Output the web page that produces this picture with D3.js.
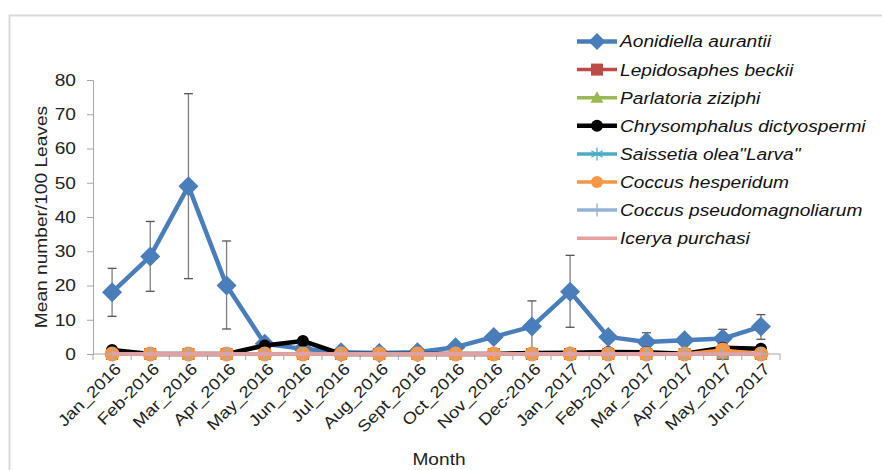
<!DOCTYPE html>
<html>
<head>
<meta charset="utf-8">
<script src="https://cdn.jsdelivr.net/npm/d3@7"></script>
<style>
  html, body { margin: 0; padding: 0; background: #fff; }
  svg { display: block; font-family: "Liberation Sans", Arial, sans-serif; }
</style>
</head>
<body>
<svg id="chart" width="882" height="470"></svg>
<script>
// Sampling months
const months = ["Jan_2016","Feb-2016","Mar_2016","Apr_2016","May_2016","Jun_2016","Jul_2016","Aug_2016",
  "Sept_2016","Oct_2016","Nov_2016","Dec-2016","Jan_2017","Feb-2017","Mar_2017","Apr_2017","May_2017","Jun_2017"];

// Mean number per 100 leaves for each species
const aonidiella     = [18, 28.5, 49, 20, 3, 1.5, 0.5, 0.3, 0.5, 2, 5, 8, 18.2, 5, 3.5, 4, 4.5, 8];
const aonidiellaLow  = [11, 18.3, 22, 7.3, null, null, null, null, null, null, null, 0.5, 7.8, null, 3, null, 3.5, 4.3];
const aonidiellaHigh = [25, 38.7, 76, 33, null, null, null, null, null, null, null, 15.5, 28.8, null, 6.2, null, 7.2, 11.5];
const lepidosaphes   = [0, 0, 0, 0, 0, 0, 0, 0, 0, 0, 0, 0, 0, 0, 0, 0, 0, 0];
const parlatoria     = [0, 0, 0, 0, 0, 0, 0, 0, 0, 0, 0, 0, 0, 0, 0, 0, 0.1, 0];
const chrysomphalus  = [1.2, 0, 0, 0, 2.5, 3.8, 0, 0, 0, 0, 0, 0.3, 0.4, 0.6, 0.5, 0.1, 1.8, 1.5];
const saissetia      = [0, 0, 0, 0, 0, 0, 0, 0, 0, 0, 0, 0, 0, 0, 0, 0, 0, 0];
const coccusHesp     = [0, 0, 0, 0, 0, 0, 0, 0, 0, 0, 0, 0, 0, 0, 0, 0, 1.2, 0];
const coccusPseudo   = [0, 0, 0, 0, 0, 0, 0, 0, 0, 0, 0, 0, 0, 0, 0, 0, 0, 0];
const icerya         = [0, 0, 0, 0, 0, 0, 0, 0, 0, 0, 0, 0, 0, 0, 0, 0, 0, 0];

const yTicks = [0, 10, 20, 30, 40, 50, 60, 70, 80];

const series = [
  { name: "Aonidiella aurantii", values: aonidiella, color: "#4a7ebb", width: 4.5, marker: "diamond", low: aonidiellaLow, high: aonidiellaHigh },
  { name: "Lepidosaphes beckii", values: lepidosaphes, color: "#be4b48", width: 3.5, marker: "square" },
  { name: "Parlatoria ziziphi", values: parlatoria, color: "#98b954", width: 3.5, marker: "triangle" },
  { name: "Chrysomphalus dictyospermi", values: chrysomphalus, color: "#000000", width: 4.5, marker: "circle" },
  { name: "Saissetia olea\"Larva\"", values: saissetia, color: "#4bacc6", width: 3.5, marker: "star" },
  { name: "Coccus hesperidum", values: coccusHesp, color: "#f79646", width: 3.5, marker: "bigcircle" },
  { name: "Coccus pseudomagnoliarum", values: coccusPseudo, color: "#95b3d7", width: 3.5, marker: "plus" },
  { name: "Icerya purchasi", values: icerya, color: "#e6a0a0", width: 3.5, marker: "none" }
];

// Text in this chart is set a little wide
const STRETCH = 1.16;

const svg = d3.select("#chart");

// Outer chart frame
svg.append("rect").attr("x", 9.5).attr("y", 15.5).attr("width", 900).attr("height", 470)
  .attr("fill", "none").attr("stroke", "#d9d9d9").attr("stroke-width", 2);

const plot = { left: 93, right: 780, top: 80, bottom: 354 };

const x = d3.scaleBand().domain(months).range([plot.left, plot.right]);
const y = d3.scaleLinear().domain([0, 80]).range([plot.bottom, plot.top]);
const cx = d => x(d) + x.bandwidth() / 2;

// Y axis
const yAxis = svg.append("g").attr("transform", `translate(${plot.left},0)`)
  .call(d3.axisLeft(y).tickValues(yTicks).tickSize(6).tickPadding(6));
yAxis.select(".domain").attr("stroke", "#a6a6a6");
yAxis.selectAll(".tick line").attr("stroke", "#a6a6a6");
yAxis.selectAll(".tick text")
  .attr("x", null)
  .attr("transform", `translate(-17,0) scale(${STRETCH},1)`)
  .attr("font-size", 16.5).attr("fill", "#222")
  .attr("font-family", "'Liberation Sans', Arial, sans-serif");

// X axis: tick marks between categories, labels centred on categories
const xAxisG = svg.append("g").attr("transform", `translate(0,${plot.bottom})`);
xAxisG.append("line").attr("x1", plot.left).attr("x2", plot.right)
  .attr("stroke", "#a6a6a6");
const bounds = months.map(m => x(m)).concat([plot.right]);
xAxisG.selectAll("line.tk").data(bounds).join("line").attr("class", "tk")
  .attr("x1", d => d).attr("x2", d => d).attr("y1", 0).attr("y2", 6).attr("stroke", "#a6a6a6");
xAxisG.selectAll("text").data(months).join("text")
  .attr("transform", d => `translate(${cx(d) + 6},${12}) rotate(-45) scale(${STRETCH},1)`)
  .attr("text-anchor", "end").attr("dy", "0.35em")
  .attr("font-size", 16).attr("fill", "#222").text(d => d);

// Axis titles
svg.append("text").attr("transform", `translate(41,217) rotate(-90) scale(${STRETCH},1)`)
  .attr("text-anchor", "middle").attr("dy", "0.35em").attr("font-size", 16.5).attr("fill", "#222")
  .text("Mean number/100 Leaves");
svg.append("text").attr("transform", `translate(439,459) scale(${STRETCH},1)`)
  .attr("text-anchor", "middle").attr("dy", "0.35em")
  .attr("font-size", 16.5).attr("fill", "#222").text("Month");

// Error bars
const errG = svg.append("g");
series.filter(s => s.low).forEach(s => {
  months.forEach((m, i) => {
    if (s.low[i] == null) return;
    const xx = cx(m), y1 = y(s.low[i]), y2 = y(s.high[i]);
    errG.append("line").attr("x1", xx).attr("x2", xx).attr("y1", y1).attr("y2", y2)
      .attr("stroke", "#7f7f7f").attr("stroke-width", 1.3);
    [y1, y2].forEach(yy => errG.append("line").attr("x1", xx - 4.5).attr("x2", xx + 4.5)
      .attr("y1", yy).attr("y2", yy).attr("stroke", "#555").attr("stroke-width", 1.3));
  });
});

function drawMarker(g, type, color, px, py, legend) {
  switch (type) {
    case "diamond": {
      const r = legend ? 8.5 : 10;
      g.append("path").attr("d", `M${px},${py - r}L${px + r},${py}L${px},${py + r}L${px - r},${py}Z`)
        .attr("fill", color);
      break;
    }
    case "square":
      g.append("rect").attr("x", px - 6).attr("y", py - 6).attr("width", 12).attr("height", 12)
        .attr("fill", color);
      break;
    case "triangle":
      g.append("path").attr("d", `M${px},${py - 6.5}L${px + 6.5},${py + 5}L${px - 6.5},${py + 5}Z`)
        .attr("fill", color);
      break;
    case "circle":
      g.append("circle").attr("cx", px).attr("cy", py).attr("r", 6).attr("fill", color);
      break;
    case "star":
      [0, 60, 120].forEach(a => {
        const r = 6.5, rad = a * Math.PI / 180;
        g.append("line").attr("x1", px - r * Math.sin(rad)).attr("y1", py - r * Math.cos(rad))
          .attr("x2", px + r * Math.sin(rad)).attr("y2", py + r * Math.cos(rad))
          .attr("stroke", color).attr("stroke-width", 1.2);
      });
      break;
    case "bigcircle":
      g.append("circle").attr("cx", px).attr("cy", py).attr("r", legend ? 6 : 7.5).attr("fill", color);
      break;
    case "plus":
      g.append("line").attr("x1", px - 6.5).attr("x2", px + 6.5).attr("y1", py).attr("y2", py)
        .attr("stroke", color).attr("stroke-width", 1.4);
      g.append("line").attr("x1", px).attr("x2", px).attr("y1", py - 6.5).attr("y2", py + 6.5)
        .attr("stroke", color).attr("stroke-width", 1.4);
      break;
  }
}

// Series lines and markers
const line = d3.line().x((d, i) => cx(months[i])).y(d => y(d));
series.forEach(s => {
  const g = svg.append("g");
  g.append("path").datum(s.values).attr("d", line).attr("fill", "none")
    .attr("stroke", s.color).attr("stroke-width", s.width).attr("stroke-linejoin", "round");
  s.values.forEach((v, i) => drawMarker(g, s.marker, s.color, cx(months[i]), y(v), false));
});

// Legend
const leg = svg.append("g");
series.forEach((s, i) => {
  const ly = 41.5 + i * 28.1;
  const g = leg.append("g");
  g.append("line").attr("x1", 577).attr("x2", 617).attr("y1", ly).attr("y2", ly)
    .attr("stroke", s.color).attr("stroke-width", s.width);
  drawMarker(g, s.marker, s.color, 597, ly, true);
  g.append("text").attr("transform", `translate(620,${ly}) scale(${STRETCH},1)`).attr("dy", "0.36em")
    .attr("font-size", 16.5).attr("font-style", "italic").attr("fill", "#111").text(s.name);
});
</script>
</body>
</html>
